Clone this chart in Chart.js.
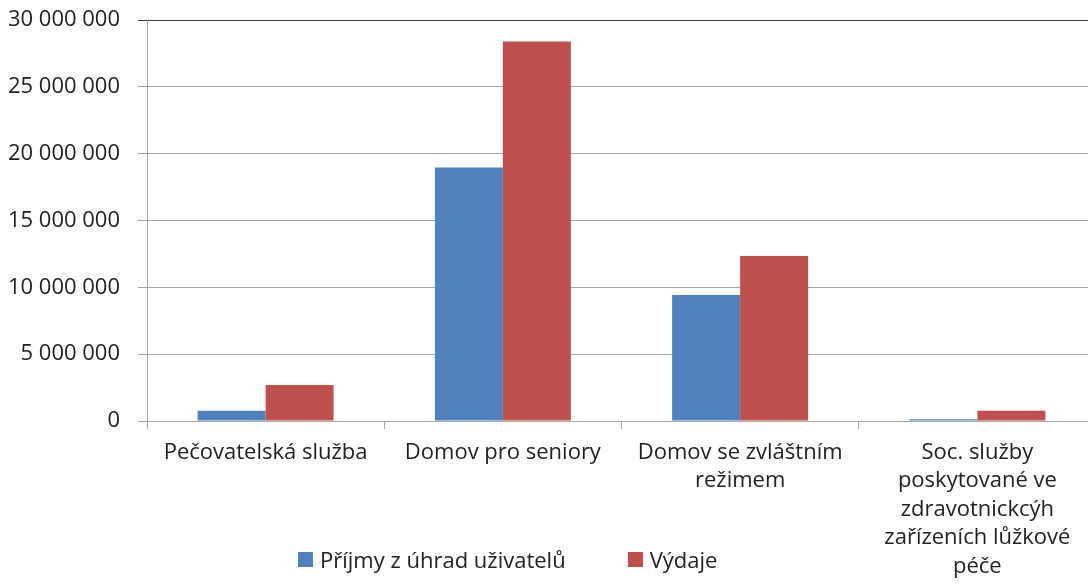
<!DOCTYPE html>
<html lang="cs">
  <head>
    <meta charset="UTF-8" />
    <title>Příjmy a výdaje sociálních služeb</title>
    <script src="https://cdn.jsdelivr.net/npm/chart.js"></script>
    <style>
      html, body { margin: 0; padding: 0; background: #fff; overflow: hidden; }
      #wrap { position: relative; width: 1097px; height: 585px; }
      #legend {
        position: absolute; left: 298px; top: 544px;
        font-family: "Open Sans", sans-serif; font-size: 22px; color: #222;
        display: flex; align-items: center;
      }
      #legend span.box { display: inline-block; width: 15px; height: 15px; margin-right: 7px; }
      #legend span.item { display: inline-flex; align-items: center; margin-right: 62px; }
    </style>
  </head>
  <body>
    <div id="wrap">
      <canvas id="chartCanvas" width="1097" height="585"></canvas>
      <div id="legend"></div>
    </div>

    <script>
      // kategorie (víceřádkové popisky jako v originálu)
      let categories = [
        ["Pečovatelská služba"],
        ["Domov pro seniory"],
        ["Domov se zvláštním", "režimem"],
        ["Soc. služby", "poskytované ve", "zdravotnickcýh", "zařízeních lůžkové", "péče"],
      ];
      let prijmy = [770000, 18970000, 9420000, 130000];
      let vydaje = [2690000, 28400000, 12340000, 770000];
      let seriesNames = ["Příjmy z úhrad uživatelů", "Výdaje"];
      let seriesColors = ["#4F81BD", "#C0504D"];

      function fmt(v) {
        return String(v).replace(/\B(?=(\d{3})+(?!\d))/g, " ");
      }

      let font = { family: "'Open Sans', sans-serif", size: 22 };

      let ctx = document.getElementById("chartCanvas").getContext("2d");
      let chart = new Chart(ctx, {
        type: "bar",
        data: {
          labels: categories,
          datasets: [
            {
              label: seriesNames[0],
              data: prijmy,
              backgroundColor: seriesColors[0],
              categoryPercentage: 0.573,
              barPercentage: 1.0,
            },
            {
              label: seriesNames[1],
              data: vydaje,
              backgroundColor: seriesColors[1],
              categoryPercentage: 0.573,
              barPercentage: 1.0,
            },
          ],
        },
        options: {
          responsive: false,
          animation: false,
          layout: { padding: { top: 20, right: 1, bottom: 0, left: 0 } },
          plugins: { legend: { display: false }, tooltip: { enabled: false } },
          scales: {
            x: {
              grid: { drawOnChartArea: false, drawTicks: true, tickLength: 8, color: "#a6a6a6" },
              border: { color: "#a6a6a6" },
              ticks: { font: { ...font, lineHeight: 1.3 }, color: "#222", padding: 9, maxRotation: 0, autoSkip: false },
              afterFit: (scale) => { scale.height = 164; },
            },
            y: {
              min: 0,
              max: 30000000,
              ticks: { stepSize: 5000000, font: font, color: "#222", padding: 18, callback: (v) => fmt(v) },
              grid: {
                tickLength: 9,
                color: (c) => (c.index === 6 ? "#404040" : "#a6a6a6"),
              },
              border: { color: "#a6a6a6" },
              afterFit: (scale) => {
                scale.width = 147;
                scale.paddingTop = 0;
                scale.paddingBottom = 0;
              },
            },
          },
        },
      });

      // legenda
      let legend = document.getElementById("legend");
      chart.data.datasets.forEach((ds) => {
        let item = document.createElement("span");
        item.className = "item";
        let box = document.createElement("span");
        box.className = "box";
        box.style.background = ds.backgroundColor;
        item.appendChild(box);
        item.appendChild(document.createTextNode(ds.label));
        legend.appendChild(item);
      });
    </script>
  </body>
</html>
